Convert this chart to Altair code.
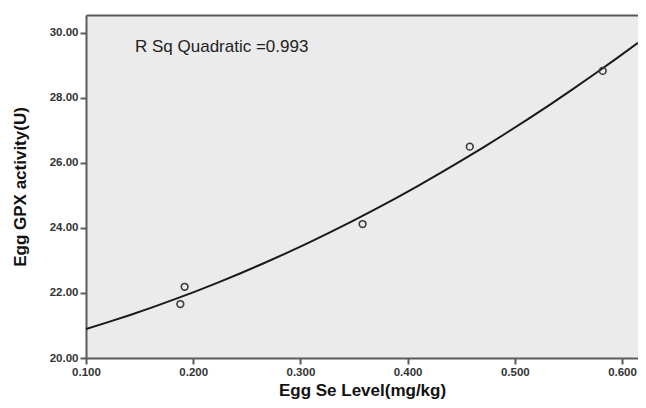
import altair as alt
import pandas as pd

se_level = [0.188, 0.192, 0.358, 0.458, 0.582]
gpx_activity = [21.66, 22.19, 24.12, 26.50, 28.83]
annotation = ["R Sq Quadratic =0.993"]
ann_x = [0.1457]
ann_y = [29.57]
x_ticks = [0.1, 0.2, 0.3, 0.4, 0.5, 0.6]
y_ticks = [20, 22, 24, 26, 28, 30]
x_domain = [0.1, 0.6149]
y_domain = [20, 30.55]

df = pd.DataFrame({"x": se_level, "y": gpx_activity})
ann = pd.DataFrame({"x": ann_x, "y": ann_y, "t": annotation})

FONT = "Liberation Sans"

xscale = alt.Scale(domain=x_domain, nice=False, zero=False)
yscale = alt.Scale(domain=y_domain, nice=False, zero=False)

xaxis = alt.Axis(title="Egg Se Level(mg/kg)", values=x_ticks, format=".3f",
                 labelFlush=False, titleY=37, titleBaseline="alphabetic")
yaxis = alt.Axis(title="Egg GPX activity(U)", values=y_ticks, format=".2f",
                 titlePadding=20)
topaxis = alt.Axis(orient="top", labels=False, ticks=False, title=None,
                   domain=True)

fit = alt.Chart(df).transform_regression(
    "x", "y", method="poly", order=2, extent=x_domain
).mark_line(color="#1a1a1a", strokeWidth=2, clip=True).encode(
    x=alt.X("x:Q", scale=xscale, axis=xaxis),
    y=alt.Y("y:Q", scale=yscale, axis=yaxis),
)

pts = alt.Chart(df).mark_point(shape="circle", filled=False, color="#3a3a3a",
                               strokeWidth=1.6, size=45, opacity=1).encode(
    x=alt.X("x:Q", scale=xscale, axis=None),
    y=alt.Y("y:Q", scale=yscale, axis=yaxis),
)

txt = alt.Chart(ann).mark_text(align="left", baseline="middle", font=FONT,
                               fontSize=17, color="#222222").encode(
    x=alt.X("x:Q", scale=xscale, axis=topaxis),
    y=alt.Y("y:Q", scale=yscale, axis=yaxis),
    text="t:N",
)

chart = alt.layer(fit, pts, txt).resolve_axis(x="independent").properties(
    width=552, height=343,
    autosize=alt.AutoSizeParams(type="none"),
    padding={"left": 78, "top": 7, "right": 0, "bottom": 42},
    background="white",
).configure_view(
    fill="#ebebeb", stroke=None, strokeWidth=0
).configure_axis(
    grid=False,
    domainColor="#5a5a5a", domainWidth=2,
    tickColor="#5a5a5a", tickWidth=2, tickSize=6,
    labelFont=FONT, labelFontSize=11.5, labelFontWeight="bold", labelColor="#333333",
    labelPadding=2,
    titleFont=FONT, titleFontSize=17, titleFontWeight="bold", titleColor="#111111",
)

chart.save("out.html", embed_options={"renderer": "svg", "actions": False})
